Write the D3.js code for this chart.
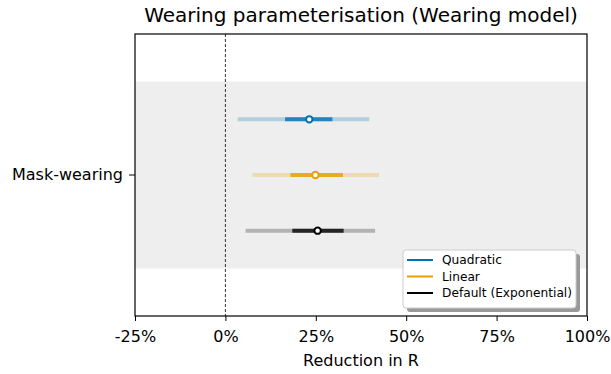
<!DOCTYPE html>
<html>
<head>
<meta charset="utf-8">
<script src="https://cdn.jsdelivr.net/npm/d3@7"></script>
<style>
  body { margin: 0; background: #fff; }
  text { font-family: "DejaVu Sans", sans-serif; fill: #000; }
</style>
</head>
<body>
<script>
// data
var categories = ["Mask-wearing"];
var seriesNames = ["Quadratic", "Linear", "Default (Exponential)"];
var seriesColors = ["#0072B2", "#E69F00", "#000000"];
var medians = [23.2, 24.9, 25.5];
var lo50 = [16.5, 18.0, 18.5];
var hi50 = [29.6, 32.5, 32.7];
var lo95 = [3.4, 7.5, 5.6];
var hi95 = [39.8, 42.5, 41.4];
var xTicks = [-25, 0, 25, 50, 75, 100];

var margin = { top: 34, right: 24, bottom: 58, left: 135 },
    width = 611 - margin.left - margin.right,
    height = 374 - margin.top - margin.bottom;

var svg = d3.select("body").append("svg")
    .attr("width", 611)
    .attr("height", 374);

var g = svg.append("g")
    .attr("transform", "translate(" + margin.left + "," + margin.top + ")");

var x = d3.scaleLinear().domain([-25, 100]).range([0, width]);
var yCat = d3.scaleBand().domain(categories).range([0, height]).paddingOuter(0.254).paddingInner(0);
var ySer = d3.scalePoint().domain(seriesNames).range([0, yCat.bandwidth()]).padding(0.68);

// grey band for the category
g.selectAll(".band")
    .data(categories)
    .enter().append("rect")
    .attr("x", 0)
    .attr("width", width)
    .attr("y", d => yCat(d))
    .attr("height", yCat.bandwidth())
    .attr("fill", "#eeeeee");

// zero line
g.append("line")
    .attr("x1", x(0)).attr("x2", x(0))
    .attr("y1", 0).attr("y2", height)
    .attr("stroke", "#000")
    .attr("stroke-width", 0.8)
    .attr("stroke-dasharray", "3,2");

var rows = seriesNames.map((s, i) => ({
    name: s, color: seriesColors[i], med: medians[i],
    lo50: lo50[i], hi50: hi50[i], lo95: lo95[i], hi95: hi95[i],
    y: yCat(categories[0]) + ySer(s)
}));

// 95% intervals
g.selectAll(".ci95")
    .data(rows)
    .enter().append("line")
    .attr("x1", d => x(d.lo95)).attr("x2", d => x(d.hi95))
    .attr("y1", d => d.y).attr("y2", d => d.y)
    .attr("stroke", d => d.color)
    .attr("stroke-opacity", 0.25)
    .attr("stroke-width", 4);

// 50% intervals
g.selectAll(".ci50")
    .data(rows)
    .enter().append("line")
    .attr("x1", d => x(d.lo50)).attr("x2", d => x(d.hi50))
    .attr("y1", d => d.y).attr("y2", d => d.y)
    .attr("stroke", d => d.color)
    .attr("stroke-opacity", 0.8)
    .attr("stroke-width", 4);

g.selectAll(".med")
    .data(rows)
    .enter().append("circle")
    .attr("cx", d => x(d.med))
    .attr("cy", d => d.y)
    .attr("r", 3.2)
    .attr("fill", "#fff")
    .attr("stroke", d => d.color)
    .attr("stroke-width", 2);

// axes
var xAxis = g.append("g")
    .attr("transform", "translate(0," + height + ")")
    .call(d3.axisBottom(x).tickValues(xTicks).tickFormat(d => d + "%").tickSizeOuter(0).tickSize(5));
var yAxis = g.append("g")
    .call(d3.axisLeft(yCat).tickSizeOuter(0).tickSize(6));

[xAxis, yAxis].forEach(a => {
    a.select(".domain").remove();
    a.selectAll("line").attr("stroke", "#000").attr("stroke-width", 1);
    a.selectAll("text").style("font-family", "DejaVu Sans").style("font-size", "16px");
});
xAxis.selectAll("text").attr("dy", "0.71em").attr("y", 14.5);
yAxis.selectAll("text").attr("x", -12);

// frame
g.append("rect")
    .attr("width", width).attr("height", height)
    .attr("fill", "none").attr("stroke", "#000").attr("stroke-width", 1.2);

// labels
svg.append("text")
    .attr("x", margin.left + width / 2)
    .attr("y", 22)
    .attr("text-anchor", "middle")
    .style("font-size", "20px")
    .text("Wearing parameterisation (Wearing model)");

svg.append("text")
    .attr("x", margin.left + width / 2)
    .attr("y", 366)
    .attr("text-anchor", "middle")
    .style("font-size", "16px")
    .text("Reduction in R");

// legend
var lg = svg.append("g").attr("transform", "translate(403,250)");
lg.append("rect")
    .attr("x", 4).attr("y", 4).attr("width", 173).attr("height", 58).attr("rx", 3)
    .attr("fill", "#999");
lg.append("rect")
    .attr("width", 173).attr("height", 58).attr("rx", 3)
    .attr("fill", "#fff").attr("stroke", "#ccc");
var items = lg.selectAll(".item")
    .data(rows)
    .enter().append("g")
    .attr("transform", (d, i) => "translate(0," + (10 + i * 16.5) + ")");
items.append("line")
    .attr("x1", 4).attr("x2", 30)
    .attr("stroke", d => d.color).attr("stroke-width", 2);
items.append("text")
    .attr("x", 39).attr("dy", "0.35em")
    .style("font-size", "12.2px")
    .text(d => d.name);
</script>
</body>
</html>
